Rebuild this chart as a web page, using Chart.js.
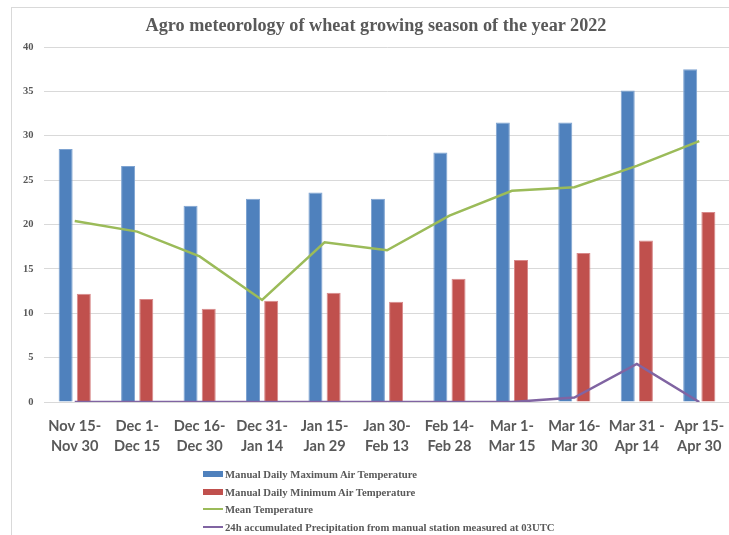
<!DOCTYPE html>
<html>
<head>
<meta charset="utf-8">
<script src="https://cdn.jsdelivr.net/npm/chart.js@4.4.1/dist/chart.umd.min.js"></script>
<style>
  html, body { margin: 0; padding: 0; background: #fff; width: 729px; height: 535px; overflow: hidden; }
  #wrap { position: absolute; left: 0; top: 0; width: 731px; height: 535px; }
  #frame { position: absolute; left: 11px; top: 7px; width: 740px; height: 540px; border-left: 1px solid #d9d9d9; border-top: 1px solid #d9d9d9; box-sizing: border-box; }
  #title { position: absolute; left: 0; width: 752px; top: 15px; text-align: center; font: bold 18.2px "Liberation Serif", "Times New Roman", serif; color: #595959; white-space: nowrap; }
  #legend { position: absolute; left: 203px; top: 465.5px; }
  .li { position: relative; height: 17.6px; display: flex; align-items: center; font: bold 10.7px "Liberation Serif", "Times New Roman", serif; color: #595959; white-space: nowrap; }
  .sw { width: 20px; margin-right: 2px; }
</style>
</head>
<body>
<div id="wrap">
  <div id="frame"></div>
  <canvas id="c" width="731" height="535"></canvas>
  <div id="title">Agro meteorology of wheat growing season of the year 2022</div>
  <div id="legend"></div>
</div>
<script>
const categories = [
  ['Nov 15-', 'Nov 30'], ['Dec 1-', 'Dec 15'], ['Dec 16-', 'Dec 30'], ['Dec 31-', 'Jan 14'],
  ['Jan 15-', 'Jan 29'], ['Jan 30-', 'Feb 13'], ['Feb 14-', 'Feb 28'], ['Mar 1-', 'Mar 15'],
  ['Mar 16-', 'Mar 30'], ['Mar 31 -', 'Apr 14'], ['Apr 15-', 'Apr 30']
];
const maxTemp  = [28.5, 26.6, 22.1, 22.9, 23.6, 22.9, 28.1, 31.5, 31.5, 35.1, 37.5];
const minTemp  = [12.2, 11.6, 10.5, 11.4, 12.3, 11.3, 13.9, 16.0, 16.8, 18.2, 21.4];
const meanTemp = [20.4, 19.2, 16.4, 11.5, 18.0, 17.1, 21.0, 23.8, 24.2, 26.6, 29.4];
const precip   = [0, 0, 0, 0, 0, 0, 0, 0, 0.5, 4.3, 0];
const yTicks = { min: 0, max: 40, step: 5 };

const seriesNames = [
  'Manual Daily Maximum Air Temperature',
  'Manual Daily Minimum Air Temperature',
  'Mean Temperature',
  '24h accumulated Precipitation from manual station measured at 03UTC'
];
const colors = ['#4F81BD', '#C0504D', '#9BBB59', '#8064A2'];

const barCommon = { type: 'bar', categoryPercentage: 0.582, barPercentage: 0.771, order: 2, borderWidth: 1 };
const lineCommon = { type: 'line', borderWidth: 2.5, pointRadius: 0, pointHoverRadius: 0, tension: 0, fill: false };

const data = {
  labels: categories,
  datasets: [
    Object.assign({ label: seriesNames[0], data: maxTemp, backgroundColor: colors[0], borderColor: '#7ea3d1' }, barCommon),
    Object.assign({ label: seriesNames[1], data: minTemp, backgroundColor: colors[1], borderColor: '#d8898a' }, barCommon),
    Object.assign({ label: seriesNames[2], data: meanTemp, borderColor: colors[2], backgroundColor: colors[2], order: 1 }, lineCommon),
    Object.assign({ label: seriesNames[3], data: precip, borderColor: colors[3], backgroundColor: colors[3], order: 0 }, lineCommon)
  ]
};

new Chart(document.getElementById('c'), {
  data,
  options: {
    responsive: false,
    animation: false,
    events: [],
    layout: { padding: { left: 0, top: 47, right: 0.5, bottom: 73 } },
    plugins: { legend: { display: false }, title: { display: false }, tooltip: { enabled: false } },
    scales: {
      x: {
        grid: { display: false, drawTicks: false },
        border: { display: false },
        ticks: {
          color: '#595959',
          font: { family: 'Lato, "Liberation Sans", sans-serif', weight: 'bold', size: 14.6, lineHeight: 1.37 },
          padding: 14,
          maxRotation: 0,
          autoSkip: false
        },
        afterFit: (s) => { s.height = 60; s.paddingLeft = 0; s.paddingRight = 0; }
      },
      y: {
        min: yTicks.min, max: yTicks.max,
        grid: { color: '#d9d9d9', lineWidth: 1, drawTicks: false },
        border: { display: false },
        ticks: {
          stepSize: yTicks.step,
          color: '#595959',
          font: { family: '"Liberation Serif", "Times New Roman", serif', weight: 'bold', size: 10.5 },
          padding: 10
        },
        afterFit: (s) => { s.width = 43.5; }
      }
    }
  }
});

const leg = document.getElementById('legend');
seriesNames.forEach((n, i) => {
  const row = document.createElement('div');
  row.className = 'li';
  const sw = document.createElement('div');
  sw.className = 'sw';
  sw.style.height = i < 2 ? '6px' : '2px';
  sw.style.background = colors[i];
  row.appendChild(sw);
  const t = document.createElement('span');
  t.textContent = n;
  row.appendChild(t);
  leg.appendChild(row);
});
</script>
</body>
</html>
